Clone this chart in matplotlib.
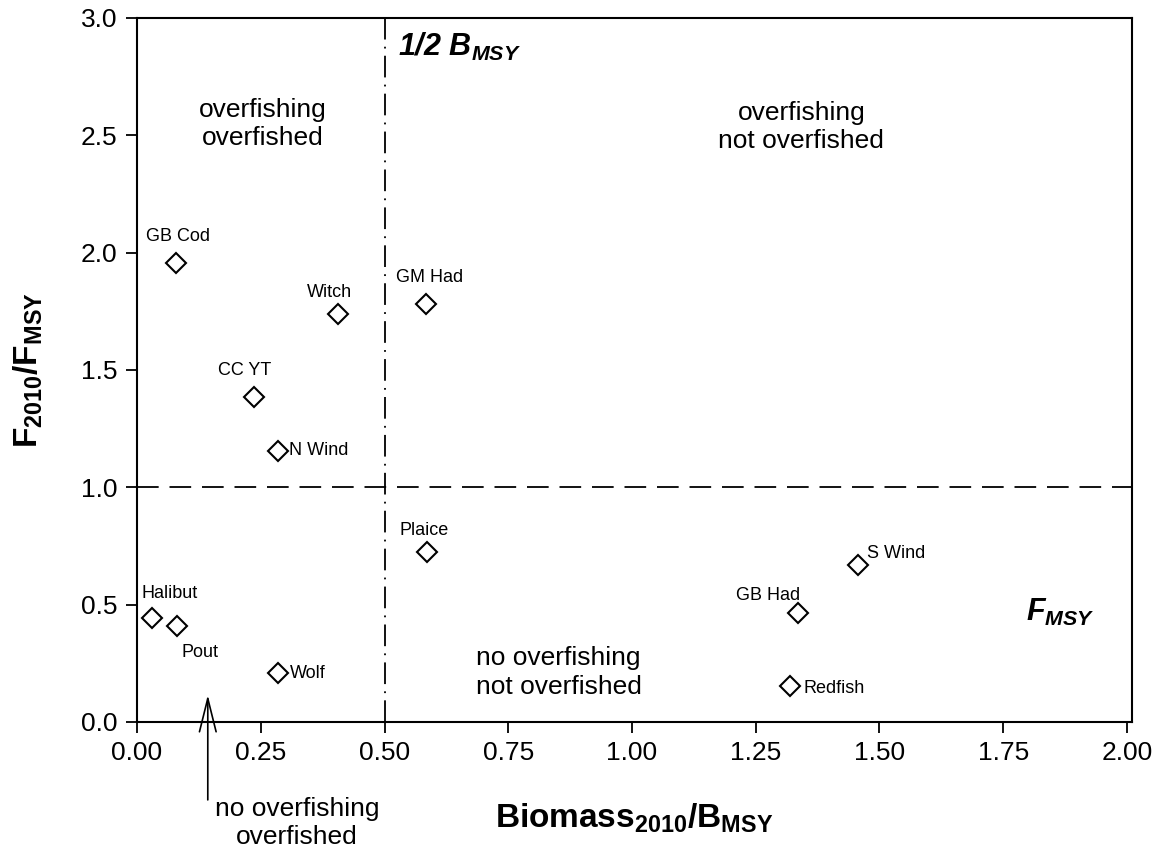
import matplotlib
matplotlib.use('Agg')
import matplotlib.pyplot as plt

plt.rcParams['font.family'] = ['Liberation Sans', 'DejaVu Sans']
plt.rcParams['mathtext.fontset'] = 'custom'
plt.rcParams['mathtext.rm'] = 'Liberation Sans'
plt.rcParams['mathtext.it'] = 'Liberation Sans:italic'
plt.rcParams['mathtext.bf'] = 'Liberation Sans:bold'
plt.rcParams['mathtext.bfit'] = 'Liberation Sans:italic:bold'

# stock status data
stocks = ['GB Cod', 'Witch', 'GM Had', 'CC YT', 'N Wind', 'Plaice',
          'S Wind', 'GB Had', 'Halibut', 'Pout', 'Wolf', 'Redfish']
biomass_ratio = [0.079, 0.406, 0.583, 0.236, 0.285, 0.585,
                 1.457, 1.336, 0.030, 0.081, 0.285, 1.320]
f_ratio = [1.956, 1.738, 1.781, 1.385, 1.155, 0.724,
           0.669, 0.464, 0.443, 0.409, 0.209, 0.153]

# label offsets in pixels and alignment
label_pos = {
    'GB Cod': (2, 26, 'center'),
    'Witch': (-8, 22, 'center'),
    'GM Had': (4, 27, 'center'),
    'CC YT': (-9, 26, 'center'),
    'N Wind': (11, 0, 'left'),
    'Plaice': (-2, 22, 'center'),
    'S Wind': (9, 11, 'left'),
    'GB Had': (-30, 18, 'center'),
    'Halibut': (18, 25, 'center'),
    'Pout': (23, -26, 'center'),
    'Wolf': (12, -1, 'left'),
    'Redfish': (13, -2, 'left'),
}

fig = plt.figure(figsize=(11.63, 8.48), dpi=100)
ax = fig.add_axes([0.1178, 0.1486, 0.8555, 0.8302])

ax.plot(biomass_ratio, f_ratio, linestyle='none', marker='D', markersize=10,
        markerfacecolor='white', markeredgecolor='black', markeredgewidth=1.5, zorder=3)

for name, x, y in zip(stocks, biomass_ratio, f_ratio):
    dx, dy, ha = label_pos[name]
    ax.annotate(name, (x, y), xytext=(dx, dy), textcoords='offset pixels',
                ha=ha, va='center', fontsize=13)

# reference lines
ax.axvline(0.5, color='black', lw=1.3, linestyle=(0, (12, 4, 1, 4)))
ax.axhline(1.0, color='black', lw=1.3, linestyle=(0, (12, 6)))

# quadrant labels
ax.text(0.254, 2.548, 'overfishing\noverfished', ha='center', va='center',
        fontsize=19, linespacing=1.25)
ax.text(1.342, 2.535, 'overfishing\nnot overfished', ha='center', va='center',
        fontsize=19, linespacing=1.25)
ax.text(0.852, 0.21, 'no overfishing\nnot overfished', ha='center', va='center',
        fontsize=19, linespacing=1.25)
ax.text(0.323, -0.43, 'no overfishing\noverfished', ha='center', va='center',
        fontsize=19, linespacing=1.25, clip_on=False)
ax.annotate('', xy=(0.143, 0.115), xytext=(0.143, -0.332),
            arrowprops=dict(arrowstyle='->,head_length=1.2,head_width=0.3',
                            mutation_scale=20, lw=1.2, color='black',
                            shrinkA=0, shrinkB=0),
            annotation_clip=False)

ax.text(0.527, 2.875, r'$\mathbfit{1/2\ B_{MSY}}$', fontsize=22, ha='left', va='center')
ax.text(1.796, 0.465, r'$\mathbfit{F_{MSY}}$', fontsize=22, ha='left', va='center')

ax.set_xlim(0, 2.01)
ax.set_ylim(0, 3.0)
ax.set_xticks([0, 0.25, 0.5, 0.75, 1.0, 1.25, 1.5, 1.75, 2.0])
ax.set_xticklabels(['0.00', '0.25', '0.50', '0.75', '1.00', '1.25', '1.50', '1.75', '2.00'])
ax.set_yticks([0, 0.5, 1.0, 1.5, 2.0, 2.5, 3.0])
ax.set_yticklabels(['0.0', '0.5', '1.0', '1.5', '2.0', '2.5', '3.0'])
ax.tick_params(direction='out', length=8, width=1.3, labelsize=19, pad=6)

for s in ax.spines.values():
    s.set_linewidth(1.5)

ax.set_xlabel(r'$\mathbf{Biomass_{2010}/B_{MSY}}$', fontsize=24, labelpad=26)
ax.set_ylabel(r'$\mathbf{F_{2010}/F_{MSY}}$', fontsize=24, labelpad=26)

fig.savefig('out.png', dpi=100)
